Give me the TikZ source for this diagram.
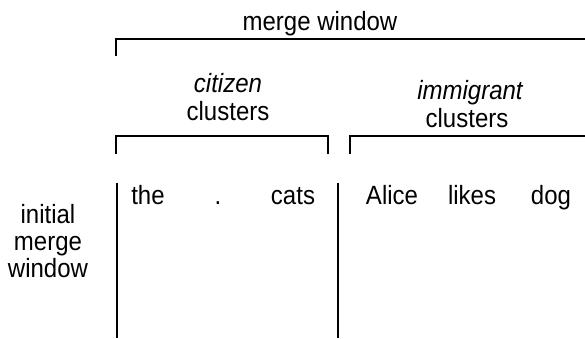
\documentclass[tikz,border=0pt]{standalone}
\usepackage{fontspec}
\setmainfont{Liberation Sans}
\newcommand{\tallt}[1]{\scalebox{1}[1.1]{#1}}
\begin{document}
\begin{tikzpicture}[x=1pt,y=-1pt,
  lbl/.style={anchor=base,inner sep=0pt,font=\fontsize{24}{27}\selectfont},
  brk/.style={line width=2pt,line cap=butt,line join=miter}]
\useasboundingbox (0,0) rectangle (585,338);
% top bracket
\coordinate (mwL) at (116,56);
\coordinate (mwC) at (116,38.5);
\coordinate (mwR) at (585,38.5);
\draw[brk] (mwL) -- (mwC) -- (mwR);
\node[lbl] (mw) at (320,30) {\tallt{merge window}};
% citizen bracket
\coordinate (cL) at (116,153.5);
\coordinate (cCL) at (116,136);
\coordinate (cCR) at (327.5,136);
\coordinate (cR) at (327.5,153.5);
\draw[brk] (cL) -- (cCL) -- (cCR) -- (cR);
\node[lbl] (cit) at (228,92) {\tallt{\itshape citizen}};
\node[lbl] (cclu) at (228,120) {\tallt{clusters}};
% immigrant bracket
\coordinate (iL) at (350,153.5);
\coordinate (iC) at (350,136);
\coordinate (iR) at (585,136);
\draw[brk] (iL) -- (iC) -- (iR);
\node[lbl] (imm) at (470,99) {\tallt{\itshape immigrant}};
\node[lbl] (iclu) at (467,127) {\tallt{clusters}};
% vertical lines
\coordinate (v1t) at (117,182.5);
\coordinate (v1b) at (117,338);
\coordinate (v2t) at (338,182.5);
\coordinate (v2b) at (338,338);
\draw[brk] (v1t) -- (v1b);
\draw[brk] (v2t) -- (v2b);
% words
\node[lbl] (w1) at (148,204) {\tallt{the}};
\node[lbl] (w2) at (218,204) {\tallt{.}};
\node[lbl] (w3) at (293,204) {\tallt{cats}};
\node[lbl] (w4) at (392,204) {\tallt{Alice}};
\node[lbl] (w5) at (472,204) {\tallt{likes}};
\node[lbl] (w6) at (551,204) {\tallt{dog}};
% left label
\node[lbl] (l1) at (48,223) {\tallt{initial}};
\node[lbl] (l2) at (48,250) {\tallt{merge}};
\node[lbl] (l3) at (48,277) {\tallt{window}};
\end{tikzpicture}
\end{document}
